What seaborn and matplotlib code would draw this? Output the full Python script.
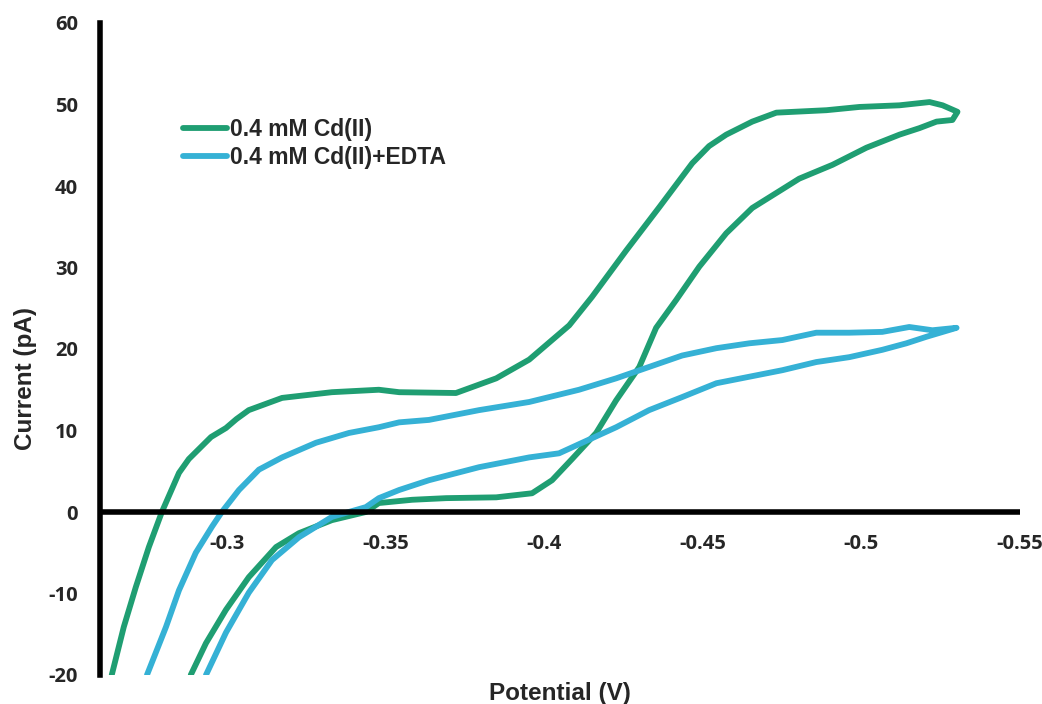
import matplotlib
matplotlib.use("Agg")
import matplotlib.pyplot as plt
import matplotlib.ticker as mticker
import seaborn as sns
import pandas as pd

# ---------------- data ----------------
series_names = ["0.4 mM Cd(II)", "0.4 mM Cd(II)+EDTA"]

cd_potential = [
    -0.2637, -0.2675, -0.2713, -0.2754, -0.2795, -0.2849, -0.2880, -0.2950,
    -0.2997, -0.3030, -0.3069, -0.3174, -0.3331, -0.3479, -0.3543, -0.3722,
    -0.3849, -0.3953, -0.4025, -0.4079, -0.4151, -0.4259, -0.4363, -0.4467,
    -0.4520, -0.4574, -0.4656, -0.4732, -0.4890, -0.4994, -0.5120, -0.5215,
    -0.5256, -0.5303,
    -0.5287, -0.5237, -0.5183, -0.5120, -0.5016, -0.4909, -0.4804, -0.4763,
    -0.4656, -0.4574, -0.4489, -0.4416, -0.4353, -0.4300, -0.4227, -0.4164,
    -0.4088, -0.4025, -0.3962, -0.3849, -0.3691, -0.3584, -0.3479, -0.3438,
    -0.3331, -0.3227, -0.3155, -0.3069, -0.2997, -0.2934, -0.2886,
]
cd_current = [
    -20.0, -14.1, -9.2, -4.3, 0.0, 4.8, 6.5, 9.2,
    10.3, 11.4, 12.5, 14.0, 14.7, 15.0, 14.7, 14.6,
    16.4, 18.7, 21.1, 22.9, 26.4, 32.1, 37.4, 42.8,
    44.9, 46.3, 47.9, 49.0, 49.3, 49.7, 49.9, 50.3,
    49.9, 49.1,
    48.1, 47.9, 47.1, 46.3, 44.7, 42.6, 40.9, 39.9,
    37.3, 34.2, 30.1, 26.0, 22.6, 17.8, 13.7, 9.7,
    6.5, 3.9, 2.3, 1.8, 1.7, 1.5, 1.1, 0.0,
    -1.0, -2.6, -4.3, -8.0, -12.0, -16.1, -20.0,
]

edta_potential = [
    -0.2748, -0.2808, -0.2849, -0.2902, -0.2953, -0.2984, -0.3038, -0.3101,
    -0.3174, -0.3281, -0.3385, -0.3479, -0.3543, -0.3637, -0.3795, -0.3953,
    -0.4110, -0.4227, -0.4331, -0.4435, -0.4543, -0.4647, -0.4751, -0.4858,
    -0.4962, -0.5066, -0.5151, -0.5224, -0.5300,
    -0.5205, -0.5142, -0.5066, -0.4962, -0.4858, -0.4751, -0.4647, -0.4543,
    -0.4435, -0.4331, -0.4227, -0.4120, -0.4047, -0.3953, -0.3795, -0.3637,
    -0.3543, -0.3479, -0.3438, -0.3331, -0.3227, -0.3142, -0.3069, -0.2997,
    -0.2934,
]
edta_current = [
    -20.0, -14.1, -9.6, -5.0, -1.8, 0.0, 2.7, 5.2,
    6.7, 8.5, 9.7, 10.4, 11.0, 11.3, 12.5, 13.5,
    15.0, 16.4, 17.8, 19.2, 20.1, 20.7, 21.1, 22.0,
    22.0, 22.1, 22.7, 22.3, 22.6,
    21.5, 20.7, 19.9, 19.0, 18.4, 17.4, 16.6, 15.8,
    14.1, 12.5, 10.4, 8.5, 7.2, 6.7, 5.5, 3.9,
    2.7, 1.7, 0.6, -0.6, -3.1, -5.9, -9.9, -14.8,
    -20.0,
]

x_ticks = [-0.30, -0.35, -0.40, -0.45, -0.50, -0.55]
x_tick_labels = ["-0.3", "-0.35", "-0.4", "-0.45", "-0.5", "-0.55"]
y_ticks = [-20, -10, 0, 10, 20, 30, 40, 50, 60]
y_tick_labels = ["-20", "-10", "0", "10", "20", "30", "40", "50", "60"]

colors = ["#1f9e72", "#35b1d5"]

# ---------------- build table ----------------
frames = []
for name, xs, ys in [(series_names[0], cd_potential, cd_current),
                     (series_names[1], edta_potential, edta_current)]:
    frames.append(pd.DataFrame({"Potential": xs, "Current": ys,
                                "Series": name, "order": range(len(xs))}))
df = pd.concat(frames, ignore_index=True)

# ---------------- plot ----------------
sns.set_style("white")
plt.rcParams["font.family"] = ["Liberation Sans", "DejaVu Sans"]

fig = plt.figure(figsize=(10.42, 7.04), dpi=100)
ax = fig.add_axes([100 / 1042, 1 - 675 / 704, 920 / 1042, 652 / 704])

sns.lineplot(data=df, x="Potential", y="Current", hue="Series",
             hue_order=series_names, palette=colors, sort=False,
             estimator=None, linewidth=4.2, legend=False, ax=ax)
for ln in ax.get_lines():
    ln.set_solid_joinstyle("round")
    ln.set_solid_capstyle("round")

ax.set_xlim(-0.26, -0.55)
ax.set_ylim(-20, 60)

for s in ["top", "right"]:
    ax.spines[s].set_visible(False)
ax.spines["bottom"].set_position(("data", 0))
ax.spines["bottom"].set_linewidth(4)
ax.spines["left"].set_linewidth(4)
ax.spines["bottom"].set_color("black")
ax.spines["left"].set_color("black")
ax.spines["bottom"].set_capstyle("butt")

ax.xaxis.set_major_locator(mticker.FixedLocator(x_ticks))
ax.set_xticklabels(x_tick_labels)
ax.yaxis.set_major_locator(mticker.FixedLocator(y_ticks))
ax.set_yticklabels(y_tick_labels)

for lab in ax.get_xticklabels() + ax.get_yticklabels():
    lab.set_fontfamily(["Open Sans", "DejaVu Sans"])
    lab.set_fontweight("bold")
    lab.set_fontsize(14.5)
ax.tick_params(axis="x", length=0, pad=16)
ax.tick_params(axis="y", length=0, pad=16)

ax.set_xlabel("Potential (V)", fontsize=17.5, fontweight="bold")
ax.xaxis.label.set_va("center")
ax.xaxis.set_label_coords(0.5, -0.028)
ax.set_ylabel("Current (pA)", fontsize=17.5, fontweight="bold")
ax.yaxis.label.set_va("center")
ax.yaxis.set_label_coords(-0.081, 0.455)

handles = ax.get_lines()[:2]
leg = fig.legend(handles, series_names, loc="upper left",
                 bbox_to_anchor=(183 / 1042, 1 - 118 / 704),
                 frameon=False, borderpad=0, borderaxespad=0,
                 handlelength=1.9, handletextpad=0.15, labelspacing=0.2,
                 prop=dict(family="Liberation Sans", weight="bold", size=16.5))

fig.savefig("out.png", dpi=100)
